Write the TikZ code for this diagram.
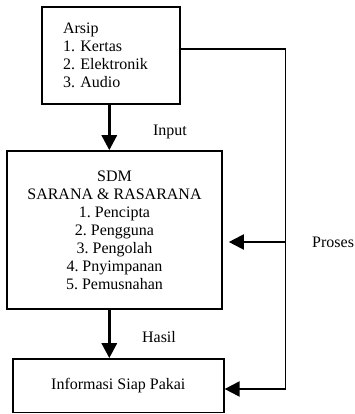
\documentclass[tikz,border=0pt]{standalone}
\usepackage{fontspec}
\setmainfont{Liberation Serif}
\usetikzlibrary{arrows.meta,calc,positioning}
\frenchspacing
\tikzset{
    >={Triangle[length=15pt,width=15pt]},
    kotak/.style={
        rectangle,
        draw=black, line width=1.6pt,
        inner sep=0pt
    },
    panah/.style={draw, line width=3pt, ->},
    panahtipis/.style={draw, line width=2pt, ->},
    garis/.style={draw, line width=1.6pt},
    label/.style={inner sep=0pt},
    font={\fontsize{16pt}{18pt}\selectfont},
}
\begin{document}
\begin{tikzpicture}[x=1pt, y=-1pt]

\useasboundingbox (0,0) rectangle (355,414);

% boxes
\node [kotak, minimum width=138pt, minimum height=97pt, text width=96pt, align=left] (arsip) at (111,55.5)
  {Arsip\\1. Kertas\\2. Elektronik\\3. Audio};

\node [kotak, minimum width=215pt, minimum height=158pt, align=center] (sdm) at (114.5,230)
  {SDM\\SARANA \& RASARANA\\1. Pencipta\\2. Pengguna\\3. Pengolah\\4. Pnyimpanan\\5. Pemusnahan};

\node [kotak, minimum width=211pt, minimum height=53.5pt] (info) at (118.3,385.7)
  {Informasi Siap Pakai};

% helper points
\coordinate (spine) at (109.3,0);
\coordinate (fbtop) at (285.5,49);
\coordinate (fbmid) at (285.5,242);
\coordinate (fbbot) at (285.5,389);

% main flow
\draw [panah] (arsip.south -| spine) -- (sdm.north -| spine);
\draw [panah] (sdm.south -| spine) -- (info.north -| spine);

% feedback
\draw [garis] (arsip.east |- fbtop) -- (fbtop) -- (fbbot);
\draw [panahtipis] (fbbot) -- (info.east |- fbbot);
\draw [panahtipis] (fbmid) -- ([xshift=6pt]sdm.east |- fbmid);

% labels
\node [label] (lblinput) at (170,132) {Input};
\node [label] (lblhasil) at (159,337) {Hasil};
\node [label, anchor=west] (lblproses) at (312,242) {Proses};

\end{tikzpicture}
\end{document}
